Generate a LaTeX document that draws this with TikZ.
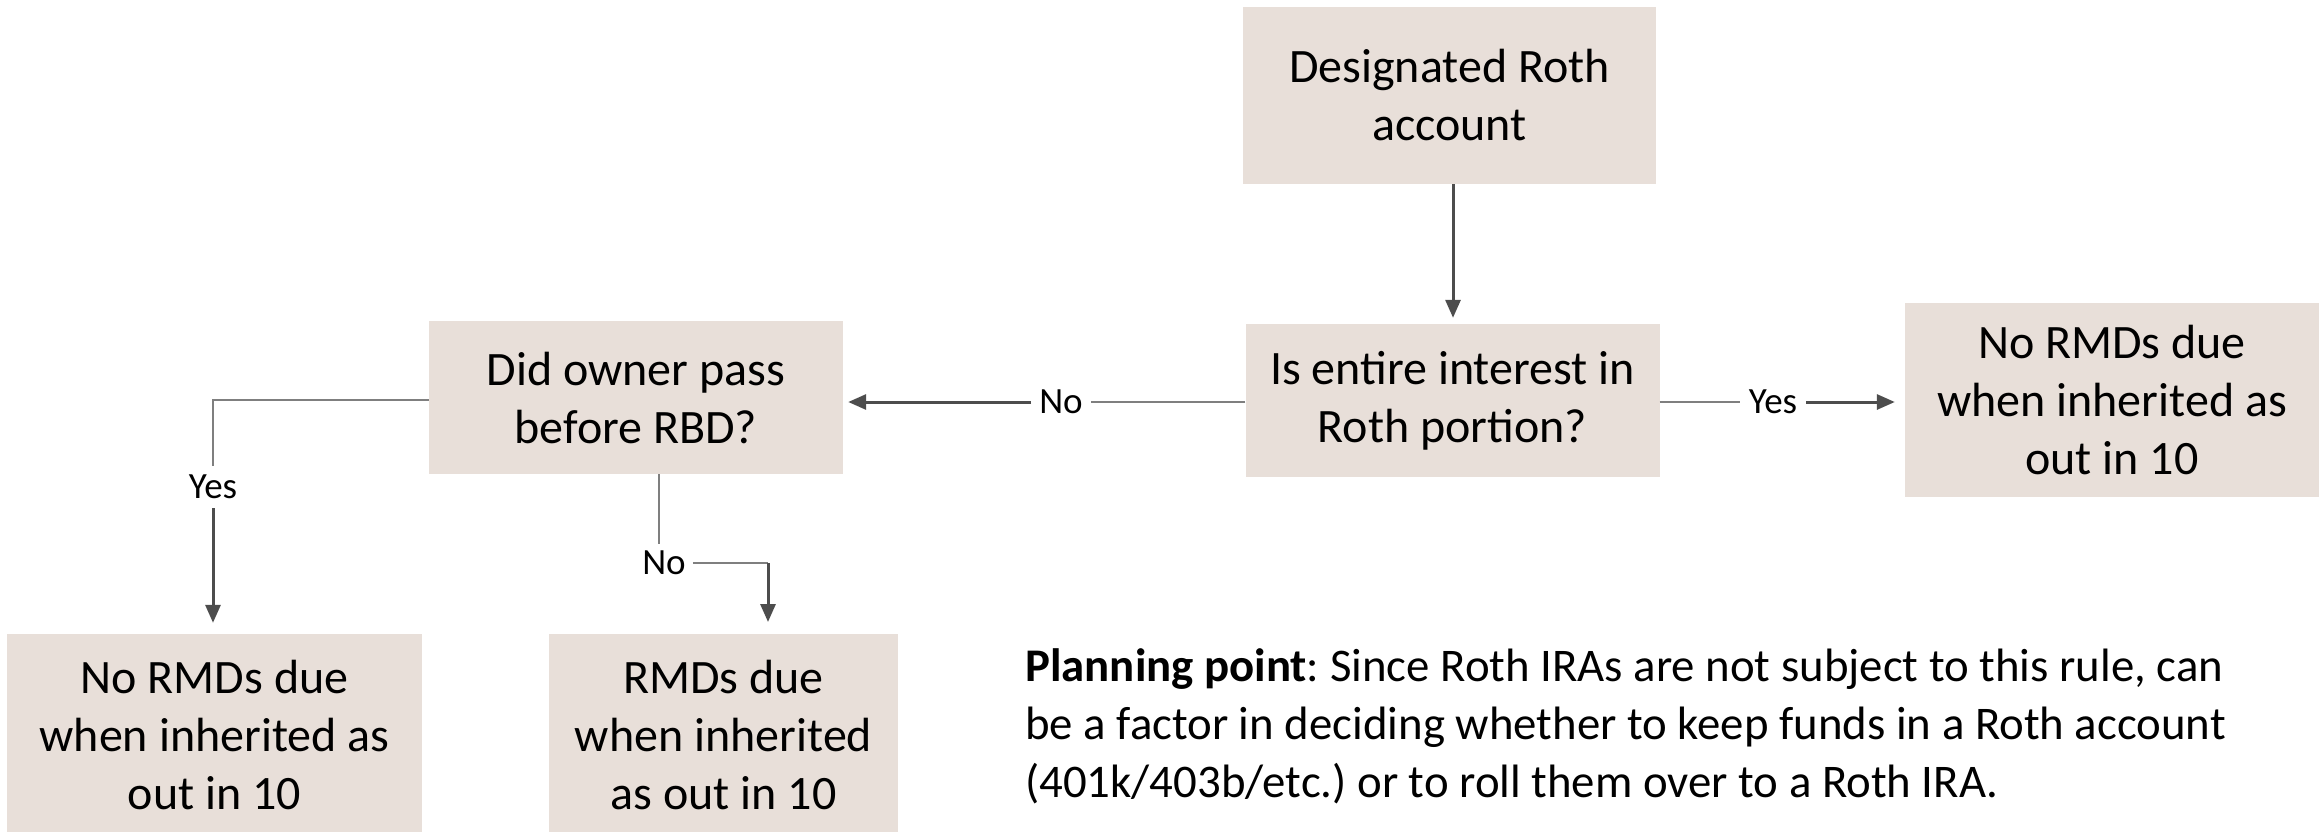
\documentclass[tikz,border=0pt]{standalone}
\usepackage{fontspec}
\setmainfont{Carlito}
\usetikzlibrary{arrows.meta}
\frenchspacing
\definecolor{boxfill}{HTML}{E8DFD9}
\definecolor{thinline}{HTML}{7F7F7F}
\definecolor{arrowline}{HTML}{4D4D4D}
\tikzset{
  flowbox/.style={rectangle, fill=boxfill, draw=none, align=center,
    font=\fontsize{48}{58}\selectfont, inner sep=0pt},
  branchlabel/.style={font=\fontsize{37}{42}\selectfont, inner sep=6pt},
  leadline/.style={draw=thinline, line width=1.5pt},
  flowarrow/.style={draw=arrowline, line width=3pt,
    -{Triangle[length=18pt,width=15pt]}},
}
\begin{document}
\begin{tikzpicture}[x=1pt, y=-1pt]
\useasboundingbox (0,0) rectangle (2323,832);

% boxes
\node[flowbox, minimum width=413pt, minimum height=177pt] (A) at (1449.5,95.5)
  {Designated Roth\\account};
\node[flowbox, minimum width=414pt, minimum height=153pt] (B) at (1452.5,400.5)
  {Is entire interest in\\Roth portion?};
\node[flowbox, minimum width=414pt, minimum height=194pt] (C) at (2112,400)
  {No RMDs due\\when inherited as\\out in 10};
\node[flowbox, minimum width=414pt, minimum height=153pt] (D) at (636,397.5)
  {Did owner pass\\before RBD?};
\node[flowbox, minimum width=415pt, minimum height=202pt] (E) at (214.5,735)
  {No RMDs due\\when inherited as\\out in 10};
\node[flowbox, minimum width=349pt, minimum height=202pt] (F) at (723.5,735)
  {RMDs due\\when inherited\\as out in 10};

% branch labels
\node[branchlabel, inner sep=8pt] (noB)  at (1061,402) {No};
\node[branchlabel, inner sep=9pt] (yesB) at (1773,402) {Yes};
\node[branchlabel, inner sep=9pt] (yesD) at (213,487) {Yes};
\node[branchlabel, inner sep=7pt] (noD)  at (664,563) {No};
\coordinate (Fin) at (768,634);

% connectors
\draw[flowarrow, shorten >=6pt] (A.south -| 1453,0) -- (B.north -| 1453,0);

\draw[leadline] (B.west |- noB.east) -- (noB.east);
\draw[flowarrow, shorten >=5pt] (noB.west) -- (D.east |- noB.west);

\draw[leadline] (B.east |- yesB.west) -- (yesB.west);
\draw[flowarrow, shorten >=10pt] (yesB.east) -- (C.west |- yesB.east);

\draw[leadline] (D.west |- 0,400) -| (yesD.north);
\draw[flowarrow, shorten >=11pt] (yesD.south) -- (yesD.south |- E.north);

\draw[leadline] (D.south -| 659,0) -- (noD.north -| 659,0);
\draw[leadline] (noD.east) -- (noD.east -| Fin);
\draw[flowarrow, shorten >=12pt] (noD.east -| Fin) -- (Fin);

% note (anchored on the baseline of its last line)
\node[anchor=base west, align=left, inner sep=0pt,
      font=\fontsize{46.8}{58}\selectfont] (note) at (1025,797)
  {\textbf{Planning point}: Since Roth IRAs are not subject to this rule, can\\
   be a factor in deciding whether to keep funds in a Roth account\\
   (401k/403b/etc.) or to roll them over to a Roth IRA.};
\end{tikzpicture}
\end{document}
